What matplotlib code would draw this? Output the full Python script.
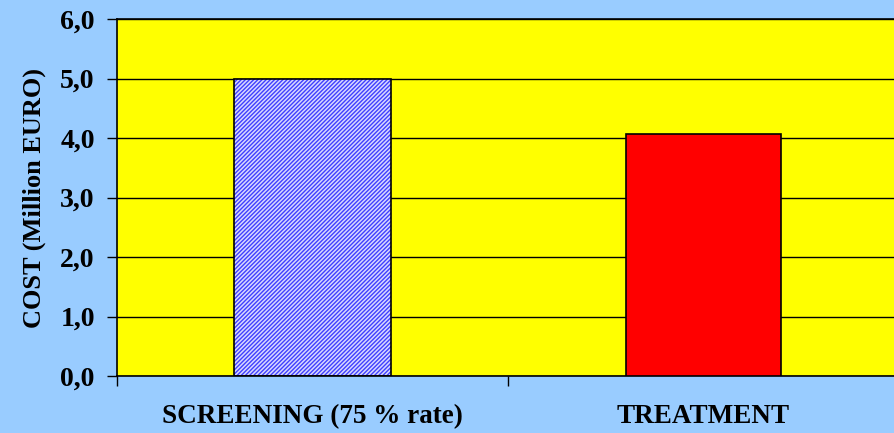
import numpy as np
import matplotlib.pyplot as plt

categories = ["SCREENING (75 % rate)", "TREATMENT"]
costs = [5.0, 4.07]
yticks = [0, 1, 2, 3, 4, 5, 6]
ytick_labels = ["0,0", "1,0", "2,0", "3,0", "4,0", "5,0", "6,0"]

plt.rcParams['font.family'] = ['Liberation Serif', 'DejaVu Serif']
plt.rcParams['font.weight'] = 'bold'
plt.rcParams['hatch.linewidth'] = 1.0

fig = plt.figure(figsize=(8.94, 4.33), dpi=100, facecolor='#99ccff')
ax = fig.add_axes([117/894, 57/433, 782/894, 357/433])
ax.set_facecolor('#ffff00')

x = np.arange(len(categories))
ax.set_axisbelow(True)
ax.yaxis.grid(True, color='black', lw=1)

# hatched screening bar, solid treatment bar
ax.bar(x[0], costs[0], width=0.4, color='#d8d8ff', edgecolor='#4040ff', hatch='////////', lw=0, zorder=2)
ax.bar(x[0], costs[0], width=0.4, fill=False, edgecolor='black', lw=1.2, zorder=3)
ax.bar(x[1], costs[1], width=0.395, color='#ff0000', edgecolor='black', lw=1.2, zorder=3)

ax.set_xlim(-0.5, 1.5)
ax.set_ylim(0, 6)
ax.set_yticks(yticks)
ax.set_yticklabels(ytick_labels, fontsize=20, fontweight='bold')
ax.tick_params(axis='y', length=7, width=1, pad=9)

ax.set_xticks(x)
ax.set_xticklabels(categories, fontsize=19.5, fontweight='bold')
ax.set_xticks([-0.5, 0.5, 1.5], minor=True)
ax.tick_params(axis='x', which='major', length=0, pad=20)
ax.tick_params(axis='x', which='minor', length=7, width=1)

ax.set_ylabel("COST (Million EURO)", fontsize=19, fontweight='bold', labelpad=10)

for s in ax.spines.values():
    s.set_color('black')
    s.set_linewidth(1.2)

fig.savefig("out.png", dpi=100, facecolor=fig.get_facecolor())
